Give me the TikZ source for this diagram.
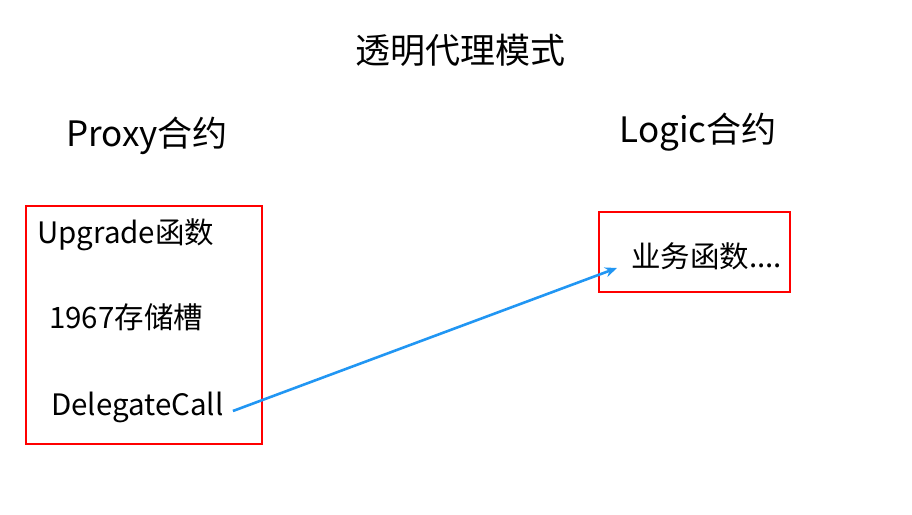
\documentclass[tikz,border=0pt]{standalone}
\usepackage{fontspec}
\setmainfont{Noto Sans CJK SC}
\usetikzlibrary{arrows.meta}
\definecolor{callblue}{RGB}{33,150,243}
\tikzset{
    contract box/.style={
        draw=red, 
        line width=2.4pt, 
        inner sep=0pt},
    heading/.style={
        font=\fontsize{35}{38}\selectfont, 
        inner sep=0pt},
    member/.style={
        font=\fontsize{29.5}{32}\selectfont, 
        anchor=west, 
        inner sep=0pt},
    call arrow/.style={
        draw=callblue, 
        line width=2.6pt, 
        -{Stealth[length=12pt,width=10pt]}
    }
}

\begin{document}
\begin{tikzpicture}[x=1pt, y=-1pt]
\useasboundingbox (0,0) rectangle (912,514);

\node [heading] (title) at (460,50) {透明代理模式};
\node [heading] (proxy-title) at (147,136) {Proxy合约};
\node [heading] (logic-title) at (698,132) {Logic合约};

\node [contract box, minimum width=236pt, minimum height=238pt] (proxy-box) at (144,325) {};
\node [contract box, minimum width=191pt, minimum height=80pt] (logic-box) at (694.5,252) {};

\node [member] (upgrade) at (37,235) {Upgrade函数};
\node [member] (slot) at (49,317) {1967存储槽};
\node [member] (delegate) at (51,407) {DelegateCall};
\node [member] (business) at (631,256) {业务函数....};

\draw [call arrow] ([xshift=9pt,yshift=-4pt]delegate.east) -- ([xshift=-14pt,yshift=-12pt]business.west);

\end{tikzpicture}
\end{document}
